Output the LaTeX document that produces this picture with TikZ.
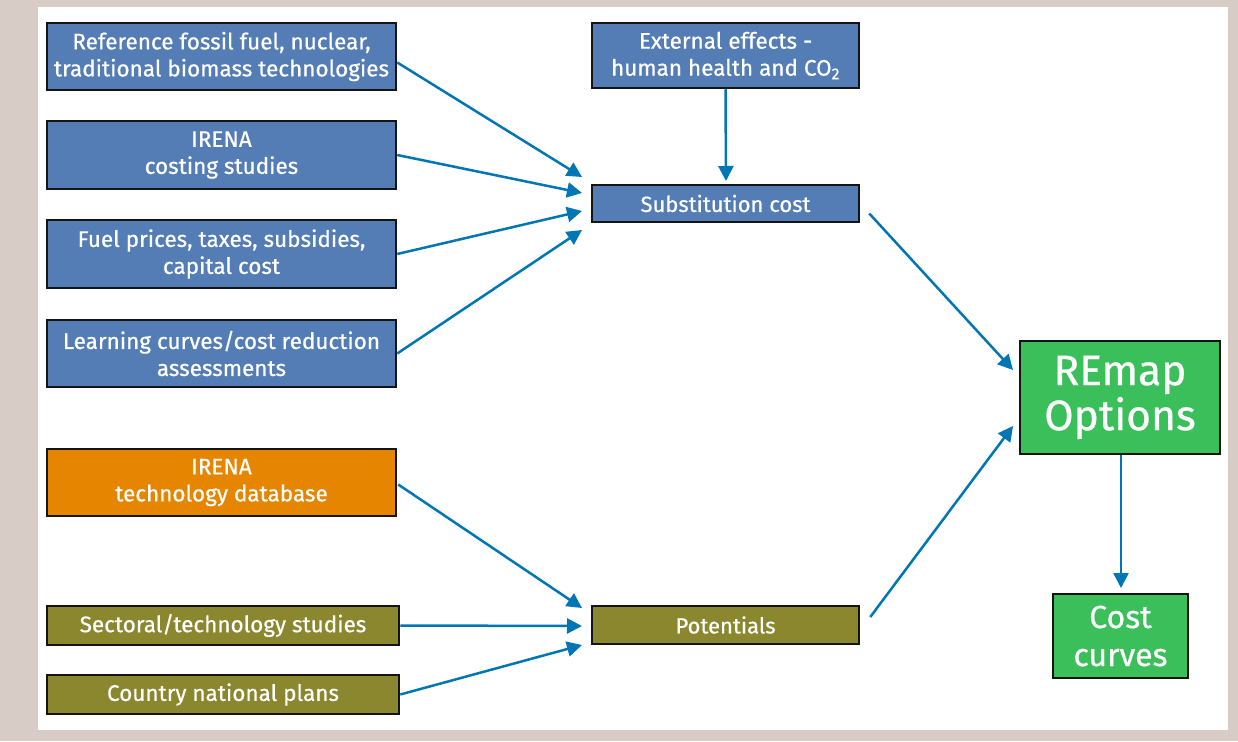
\documentclass[tikz,border=0pt]{standalone}
\usepackage{fontspec}
\setmainfont{Fira Sans}
\newfontfamily\boxfont{Fira Sans}[FakeBold=0.6]
\usetikzlibrary{arrows.meta,positioning,calc}
\definecolor{bgbeige}{RGB}{215,205,198}
\definecolor{boxblue}{RGB}{83,125,180}
\definecolor{boxorange}{RGB}{229,133,0}
\definecolor{boxolive}{RGB}{139,135,46}
\definecolor{boxgreen}{RGB}{59,191,91}
\definecolor{arrblue}{RGB}{0,118,180}
\definecolor{edgeblack}{RGB}{20,20,20}
\tikzset{
  box/.style={draw=edgeblack, line width=2.5pt, text=white, align=center, inner sep=0pt,
     font=\boxfont\fontsize{22.5}{27}\selectfont},
  bluebox/.style={box, fill=boxblue},
  orangebox/.style={box, fill=boxorange},
  olivebox/.style={box, fill=boxolive},
  greenbox/.style={box, fill=boxgreen},
  conn/.style={draw=arrblue, line width=2.5pt, -{Triangle[length=15pt,width=15pt]}},
}
\begin{document}
\begin{tikzpicture}[x=1pt,y=-1pt]
\useasboundingbox (0,0) rectangle (1238,741);
\fill[bgbeige] (0,0) rectangle (1238,741);
\fill[white] (38,7) rectangle (1228,730);

% left column
\node[bluebox, minimum width=349pt, minimum height=67pt] (A1) at (221.5,56.5)
  {Reference fossil fuel, nuclear,\\traditional biomass technologies};
\node[bluebox, minimum width=349pt, minimum height=68pt] (A2) at (221.5,155)
  {IRENA\\costing studies};
\node[bluebox, minimum width=349pt, minimum height=68pt] (A3) at (221.5,254)
  {Fuel prices, taxes, subsidies,\\capital cost};
\node[bluebox, minimum width=349pt, minimum height=67pt] (A4) at (221.5,353.5)
  {Learning curves/cost reduction\\assessments};
\node[orangebox, minimum width=349pt, minimum height=67pt] (B1) at (221.5,482.5)
  {IRENA\\technology database};
\node[olivebox, minimum width=352pt, minimum height=39pt] (B2) at (223,625.5)
  {Sectoral/technology studies};
\node[olivebox, minimum width=352pt, minimum height=39pt] (B3) at (223,694.5)
  {Country national plans};

% middle column
\node[bluebox, minimum width=267pt, minimum height=65pt] (E) at (725.5,55.5)
  {External effects -\\human health and CO\textsubscript{2}};
\node[bluebox, minimum width=267pt, minimum height=37pt, font=\boxfont\fontsize{22}{27}\selectfont] (S) at (725.5,203.5)
  {Substitution cost};
\node[olivebox, minimum width=267pt, minimum height=38pt, font=\boxfont\fontsize{22}{27}\selectfont] (P) at (725.5,625)
  {Potentials};

% right column
\node[greenbox, minimum width=200pt, minimum height=113pt, font=\boxfont\fontsize{42.5}{45}\selectfont] (R) at (1120,397.5)
  {REmap\\Options};
\node[greenbox, minimum width=135pt, minimum height=84pt, font=\boxfont\fontsize{32}{38}\selectfont] (C) at (1120.5,636)
  {Cost\\curves};

% arrow tips
\coordinate (tA1) at (582,177);
\coordinate (tA2) at (582,193);
\coordinate (tA3) at (582,211);
\coordinate (tA4) at (582,230);
\coordinate (tE) at (726,181);
\coordinate (tB1) at (582,608);
\coordinate (tB2) at (582,626);
\coordinate (tB3) at (582,645);
\coordinate (tS) at (1013,370);
\coordinate (tP) at (1013,426);
\coordinate (tR) at (1121,588);

\draw[conn] ([yshift=-6pt]A1.east) -- (tA1);
\draw[conn] (A2.east) -- (tA2);
\draw[conn] (A3.east) -- (tA3);
\draw[conn] (A4.east) -- (tA4);
\draw[conn] (E.south) -- (tE);
\draw[conn] ([xshift=1pt,yshift=-2pt]B1.east) -- (tB1);
\draw[conn] (B2.east) -- (tB2);
\draw[conn] (B3.east) -- (tB3);
\draw[conn] ([xshift=9pt,yshift=-10pt]S.east) -- (tS);
\draw[conn] ([xshift=10pt,yshift=8pt]P.east) -- (tP);
\draw[conn] ([xshift=1pt]R.south) -- (tR);
\end{tikzpicture}
\end{document}
